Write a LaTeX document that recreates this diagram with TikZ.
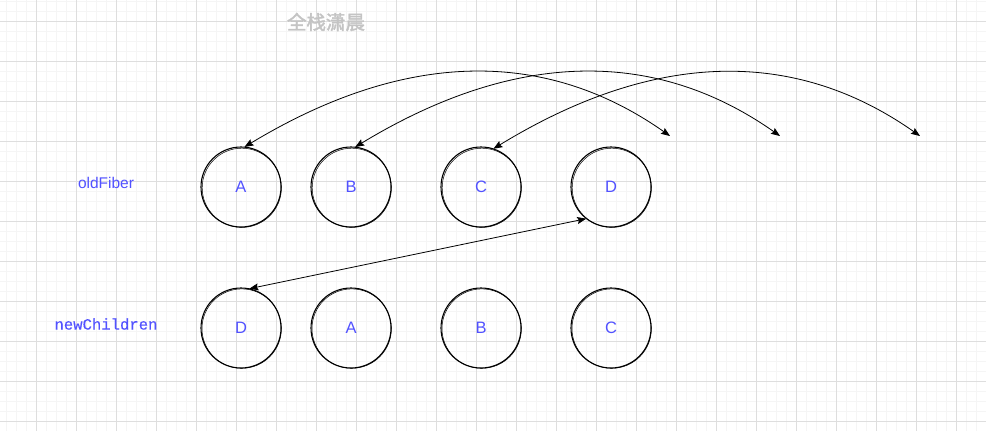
\documentclass[tikz,border=0pt]{standalone}
\usepackage{fontspec}
\setmainfont{Liberation Sans}
\newfontfamily\monofnt[FakeBold=0.3]{Liberation Mono}
\newfontfamily\cjkfnt[FakeBold=2]{Noto Sans CJK SC}
\usetikzlibrary{arrows.meta}
\definecolor{lblue}{RGB}{82,82,255}
\definecolor{gmajor}{RGB}{222,222,222}
\definecolor{gminor}{RGB}{245,245,245}
\definecolor{ttlgray}{RGB}{196,196,196}
\tikzset{
  fib/.style={circle,minimum size=80pt,inner sep=0pt,text=lblue,font=\fontsize{16.5}{18}\selectfont},
  sketch/.style={draw=black,line width=1.1pt},
  link/.style={line width=0.8pt,{Stealth[length=9pt,width=7pt,inset=1.5pt]}-{Stealth[length=9pt,width=7pt,inset=1.5pt]}},
  lbl/.style={text=lblue,inner sep=0pt}
}
\begin{document}
\begin{tikzpicture}[x=1pt,y=-1pt]
\useasboundingbox (0,0) rectangle (986,431);
\fill[white] (0,0) rectangle (986,431);
% minor grid
\foreach \x in {6,16,...,986} \draw[gminor,line width=0.6pt] (\x,0) -- (\x,431);
\foreach \y in {1,11,...,431} \draw[gminor,line width=0.6pt] (0,\y) -- (986,\y);
% major grid
\foreach \x in {36,76,...,986} \draw[gmajor,line width=0.8pt] (\x,0) -- (\x,431);
\foreach \y in {21,61,...,431} \draw[gmajor,line width=0.8pt] (0,\y) -- (986,\y);

% title
\node[text=ttlgray,inner sep=0pt,font=\cjkfnt\fontsize{19.5}{21}\selectfont] (title) at (326,22) {全栈潇晨};

% labels
\node[lbl,font=\fontsize{15.5}{18}\selectfont] (lold) at (106,183) {oldFiber};
\node[lbl,font=\monofnt\fontsize{15.6}{18}\selectfont] (lnew) at (106,324) {newChildren};

% old row
\foreach \n/\x/\t in {oA/241/A,oB/351/B,oC/481/C,oD/611/D}{
  \node[fib] (\n) at (\x,187) {\t};
  \draw[sketch] (\x,187) circle[radius=40pt];
  \draw[black,line width=0.5pt] (\x+0.8,187.8) circle[radius=39.6pt];
}
% new row
\foreach \n/\x/\t in {nD/241/D,nA/351/A,nB/481/B,nC/611/C}{
  \node[fib] (\n) at (\x,328) {\t};
  \draw[sketch] (\x,328) circle[radius=40pt];
  \draw[black,line width=0.5pt] (\x+0.7,328.6) circle[radius=39.7pt];
}

% free ends
\coordinate (e1) at (670,136);
\coordinate (e2) at (780,136);
\coordinate (e3) at (920,136);

\draw[link] (oA.85) .. controls (405,50) and (545,48) .. (e1);
\draw[link] (oB.84) .. controls (515,50) and (655,48) .. (e2);
\draw[link] (oC.72) .. controls (655,50) and (795,48) .. (e3);

\draw[link] (nD.78) -- (oD.232);
\end{tikzpicture}
\end{document}
